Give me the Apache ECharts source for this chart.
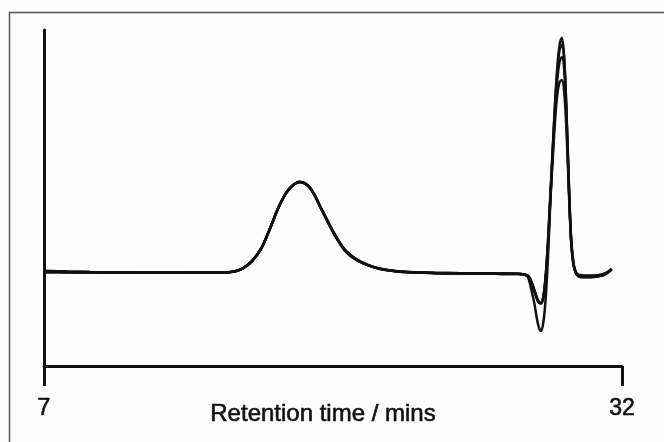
<!DOCTYPE html>
<html>
<head>
<meta charset="utf-8">
<script src="https://cdn.jsdelivr.net/npm/echarts@6/dist/echarts.min.js"></script>
<style>
  html, body { margin: 0; padding: 0; background: #fff; }
  #chart { width: 664px; height: 442px; }
</style>
</head>
<body>
<div id="chart"></div>
<script>
// retention time (min), baseline + first broad peak
var timeMain = [7.05, 8, 9, 10, 11, 12, 13, 14, 14.6, 15.0, 15.3, 15.6, 16.0, 16.4, 16.8, 17.2, 17.6, 18.05, 18.5, 19.0,
  19.5, 20.0, 20.5, 21.0, 21.5, 22.0, 22.5, 23, 24, 25, 26, 27, 27.6];
var mainA = [28.3, 28.1, 27.95, 27.9, 27.8, 27.8, 27.8, 27.8, 27.8, 27.9, 28.3, 29.1, 31.3, 35.0, 41.3, 48.0, 52.6, 54.8, 53.1, 46.6,
  39.9, 34.5, 31.6, 30.0, 28.9, 28.4, 28.0, 27.8, 27.6, 27.5, 27.5, 27.4, 27.4];
var mainB = [27.9, 27.85, 27.8, 27.8, 27.8, 27.75, 27.8, 27.8, 27.8, 27.9, 28.2, 29.0, 31.2, 35.1, 41.4, 48.1, 52.7, 54.7, 53.0, 46.8,
  40.1, 34.7, 31.8, 30.1, 29.0, 28.4, 28.1, 27.9, 27.7, 27.6, 27.5, 27.5, 27.4];

// dip + sharp late peak
var timeSharp = [27.9, 28.0, 28.1, 28.2, 28.3, 28.4, 28.5, 28.6, 28.7, 28.8, 28.9, 29.0, 29.1, 29.2, 29.3, 29.4, 29.5, 29.6, 29.7, 29.8,
  29.9, 30.0, 30.1, 30.2, 30.4, 30.6, 30.8, 31.0, 31.2, 31.4, 31.55];
var sharp1 = [26.8, 25.0, 22.0, 19.0, 14.9, 11.6, 10.4, 13.1, 20.2, 32.7, 48.8, 63.7, 77.7, 88.7, 95.5, 97.6, 91.7, 74.7, 53.9, 37.5,
  30.4, 28.0, 27.2, 27.1, 26.9, 26.9, 26.9, 27.1, 27.4, 28.1, 29.0];
var sharp2 = [27.0, 26.2, 24.7, 22.6, 20.5, 19.0, 18.75, 20.8, 27.1, 37.5, 50.9, 64.3, 76.8, 87.5, 94.0, 95.5, 91.1, 75.6, 54.8, 38.1,
  30.7, 28.0, 27.1, 26.8, 26.8, 26.8, 26.8, 27.0, 27.3, 28.0, 28.9];
var sharp3 = [27.0, 26.3, 24.8, 22.8, 20.7, 19.2, 18.9, 20.6, 26.5, 36.8, 50.0, 62.8, 75.3, 85.1, 90.5, 92.0, 88.1, 73.8, 53.9, 37.5,
  30.4, 27.7, 26.8, 26.5, 26.4, 26.4, 26.5, 26.7, 27.0, 27.8, 28.7];
var sharp4 = [27.0, 26.2, 24.6, 22.5, 20.4, 18.9, 18.6, 20.4, 26.0, 35.5, 49.4, 61.3, 72.6, 80.7, 84.5, 85.1, 81.5, 70.2, 52.4, 36.9,
  30.1, 27.7, 26.8, 26.5, 26.5, 26.5, 26.6, 26.8, 27.1, 27.9, 28.8];

var xTicks = [7, 32];

function trace(main, sharp) {
  var a = timeMain.map(function (t, i) { return [t, main[i]]; });
  var b = timeSharp.map(function (t, i) { return [t, sharp[i]]; });
  return a.concat(b);
}

var chart = echarts.init(document.getElementById('chart'));

var lineSeries = [[mainA, sharp1], [mainB, sharp2], [mainA, sharp3], [mainB, sharp4]].map(function (p) {
  return {
    type: 'line',
    data: trace(p[0], p[1]),
    showSymbol: false,
    smooth: 0.35,
    lineStyle: { color: '#111', width: 2.5 }
  };
});

var option = {
  backgroundColor: '#fdfdfd',
  animation: false,
  textStyle: { fontFamily: 'Liberation Sans' },
  graphic: [{
    type: 'rect',
    shape: { x: 9.5, y: 12.5, width: 700, height: 500 },
    style: { fill: 'none', stroke: '#555', lineWidth: 1.5 },
    silent: true
  }],
  grid: { left: 44, right: 42, top: 30, bottom: 76, containLabel: false, outerBoundsMode: 'none' },
  xAxis: {
    type: 'value',
    min: 7,
    max: 32,
    name: 'Retention time / mins',
    nameLocation: 'middle',
    nameGap: 36,
    nameMoveOverlap: false,
    nameTextStyle: { fontSize: 24, color: '#111', textBorderColor: '#111', textBorderWidth: 0.6, padding: [0, 20, 0, 0] },
    axisLine: { onZero: false, lineStyle: { color: '#111', width: 3 } },
    axisTick: { customValues: xTicks, length: 20, lineStyle: { color: '#111', width: 3 } },
    axisLabel: { customValues: xTicks, fontSize: 23, color: '#111', textBorderColor: '#111', textBorderWidth: 0.6, margin: 31 },
    splitLine: { show: false }
  },
  yAxis: {
    type: 'value',
    min: 0,
    max: 100,
    axisLine: { show: true, lineStyle: { color: '#111', width: 3 } },
    axisTick: { show: false },
    axisLabel: { show: false },
    splitLine: { show: false }
  },
  series: lineSeries
};

chart.setOption(option);
</script>
</body>
</html>
